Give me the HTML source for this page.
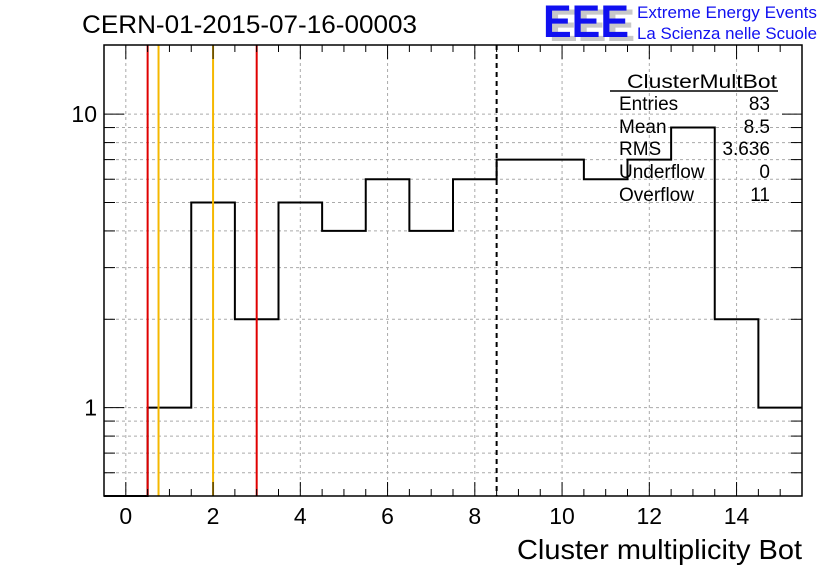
<!DOCTYPE html>
<html><head><meta charset="utf-8"><style>
body{margin:0;background:#fff;}
svg{display:block;font-family:"Liberation Sans",sans-serif;}
</style></head><body>
<svg id="c" width="836" height="572" xmlns="http://www.w3.org/2000/svg">
<text x="82" y="33" font-size="25" textLength="335" lengthAdjust="spacingAndGlyphs">CERN-01-2015-07-16-00003</text>
<g>
<text x="549" y="41" font-size="45" font-weight="bold" fill="#c8c8c8" textLength="86" lengthAdjust="spacingAndGlyphs">EEE</text>
<text x="543" y="37" font-size="45" font-weight="bold" fill="#1010f0" textLength="86" lengthAdjust="spacingAndGlyphs">EEE</text>
<text x="637" y="18" font-size="17" fill="#1010f0" textLength="180" lengthAdjust="spacingAndGlyphs">Extreme Energy Events</text>
<text x="637" y="39" font-size="17" fill="#1010f0" textLength="180" lengthAdjust="spacingAndGlyphs">La Scienza nelle Scuole</text>
</g>
<g id="grid"></g>
<g id="marks"></g>
<rect x="104" y="45" width="698" height="451" fill="none" stroke="#000" stroke-width="1.5"/>
<g id="axes"></g>
<g font-size="19">
<text x="627" y="88" textLength="150" lengthAdjust="spacingAndGlyphs">ClusterMultBot</text>
<line x1="610" y1="91" x2="778" y2="91" stroke="#000" stroke-width="1.5"/>
<text x="619" y="110">Entries</text><text x="770" y="110" text-anchor="end">83</text>
<text x="619" y="133">Mean</text><text x="770" y="133" text-anchor="end">8.5</text>
<text x="619" y="155">RMS</text><text x="770" y="155" text-anchor="end">3.636</text>
<text x="619" y="178">Underflow</text><text x="770" y="178" text-anchor="end">0</text>
<text x="619" y="201">Overflow</text><text x="770" y="201" text-anchor="end">11</text>
</g>
<text x="802" y="559" font-size="28" text-anchor="end" textLength="285" lengthAdjust="spacingAndGlyphs">Cluster multiplicity Bot</text>
</svg>
<script>
const binCenters=[0,1,2,3,4,5,6,7,8,9,10,11,12,13,14,15];
const counts=[0,1,5,2,5,4,6,4,6,7,7,6,7,9,2,1];
const xTickLabels=[0,2,4,6,8,10,12,14];
const yTickLabels=[1,10];
const redLines=[0.5,3];
const orangeLines=[0.75,2];
const dashedLines=[8.5];
const NS="http://www.w3.org/2000/svg";
const L=104,R=802,T=45,B=496,xmin=-0.5,xmax=15.5,ymin=0.5,ymax=17.2;
const X=v=>L+(v-xmin)/(xmax-xmin)*(R-L);
const Y=v=>v<=ymin?B:B-(Math.log10(v)-Math.log10(ymin))/(Math.log10(ymax)-Math.log10(ymin))*(B-T);
function mk(p,tag,a){const e=document.createElementNS(NS,tag);for(const k in a)e.setAttribute(k,a[k]);p.appendChild(e);return e;}
const grid=document.getElementById('grid'),marks=document.getElementById('marks'),axes=document.getElementById('axes');
const ygrid=[0.6,0.7,0.8,0.9,1,2,3,4,5,6,7,8,9,10];
ygrid.forEach(v=>{const l=mk(grid,'line',{x1:L,x2:R,y1:Y(v),y2:Y(v),stroke:'#aaa','stroke-dasharray':'3,3'});


mk(axes,'line',{x1:L,x2:L+(v==1||v==10?20:11),y1:Y(v),y2:Y(v),stroke:'#000'});
mk(axes,'line',{x1:R,x2:R-(v==1||v==10?20:11),y1:Y(v),y2:Y(v),stroke:'#000'});});
xTickLabels.forEach(v=>{const l=mk(grid,'line',{x1:X(v),x2:X(v),y1:T,y2:B,stroke:'#aaa','stroke-dasharray':'3,3'});


const t=mk(axes,'text',{x:X(v),y:524,'font-size':23,'text-anchor':'middle'});t.textContent=v;

});
for(let v=0;v<=15;v+=0.5){const big=v%2==0;mk(axes,'line',{x1:X(v),x2:X(v),y1:B,y2:B-(big?14:7),stroke:'#000'});mk(axes,'line',{x1:X(v),x2:X(v),y1:T,y2:T+(big?14:7),stroke:'#000'});}
yTickLabels.forEach(v=>{const t=mk(axes,'text',{x:97,y:Y(v)+8,'font-size':23,'text-anchor':'end'});t.textContent=v;

});
let d='';
binCenters.forEach((c,i)=>{const y=Y(counts[i]);d+=(i==0?'M':'L')+X(c-0.5)+','+y+'L'+X(c+0.5)+','+y;});
const h=mk(marks,'path',{d:d,fill:'none',stroke:'#000','stroke-width':2});


redLines.forEach(v=>{const l=mk(marks,'line',{x1:X(v),x2:X(v),y1:T,y2:B,stroke:'#e00000','stroke-width':2});

});
orangeLines.forEach(v=>{const l=mk(marks,'line',{x1:X(v),x2:X(v),y1:T,y2:B,stroke:'#f5b800','stroke-width':2});

});
dashedLines.forEach(v=>{const l=mk(marks,'line',{x1:X(v),x2:X(v),y1:T,y2:B,stroke:'#000','stroke-width':2,'stroke-dasharray':'5,4'});

});
</script>
</body></html>
